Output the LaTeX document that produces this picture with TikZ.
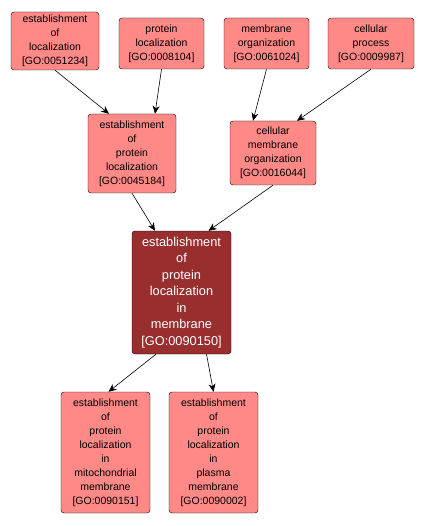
\documentclass[tikz,border=0pt]{standalone}
\usepackage{fontspec}
\setmainfont{Liberation Sans}
\usepackage{xcolor}
\usetikzlibrary{arrows.meta,positioning}
\definecolor{termpink}{RGB}{255,137,135}
\definecolor{termdark}{RGB}{153,46,46}

\begin{document}
\begin{tikzpicture}[
x=1pt, y=-1pt,
box/.style={draw, rounded corners=3pt, inner sep=1pt, fill=termpink, align=center,
  font=\fontsize{10.5}{14}\selectfont},
focus/.style={box, fill=termdark, text=white, font=\fontsize{12.8}{16.5}\selectfont},
arr/.style={-{Stealth[length=8pt, width=7pt, inset=2.5pt]}, line width=0.6pt}
]
\useasboundingbox (0,0) rectangle (424,526);
\node[box, minimum width=88pt, minimum height=58pt] (el) at (55,41) {establishment\\of\\localization\\{}[GO:0051234]};
\node[box, minimum width=85pt, minimum height=51pt] (pl) at (161.5,43.5) {protein\\localization\\{}[GO:0008104]};
\node[box, minimum width=85pt, minimum height=51pt] (mo) at (266.5,43.5) {membrane\\organization\\{}[GO:0061024]};
\node[box, minimum width=86pt, minimum height=51pt] (cp) at (371,43.5) {cellular\\process\\{}[GO:0009987]};
\node[box, minimum width=88pt, minimum height=79pt] (epl) at (132,153.5) {establishment\\of\\protein\\localization\\{}[GO:0045184]};
\node[box, minimum width=86pt, minimum height=64pt] (cmo) at (273,153) {cellular\\membrane\\organization\\{}[GO:0016044]};
\node[focus, minimum width=99pt, minimum height=123pt] (eplm) at (181.5,292.5) {establishment\\of\\protein\\localization\\in\\membrane\\{}[GO:0090150]};
\node[box, minimum width=89pt, minimum height=121pt] (mit) at (105.5,452.5) {establishment\\of\\protein\\localization\\in\\mitochondrial\\membrane\\{}[GO:0090151]};
\node[box, minimum width=89pt, minimum height=121pt] (pla) at (213.5,452.5) {establishment\\of\\protein\\localization\\in\\plasma\\membrane\\{}[GO:0090002]};
\draw[arr] (el.south) -- ([xshift=-23pt]epl.north);
\draw[arr] (pl.south) -- ([xshift=23pt]epl.north);
\draw[arr] (mo.south) -- ([xshift=-20pt]cmo.north);
\draw[arr] (cp.south) -- ([xshift=24pt]cmo.north);
\draw[arr] (epl.south) -- ([xshift=-26.5pt]eplm.north);
\draw[arr] (cmo.south) -- ([xshift=27pt]eplm.north);
\draw[arr] ([xshift=-25.5pt]eplm.south) -- ([xshift=3pt]mit.north);
\draw[arr] ([xshift=25pt]eplm.south) -- (pla.north);
\end{tikzpicture}
\end{document}
